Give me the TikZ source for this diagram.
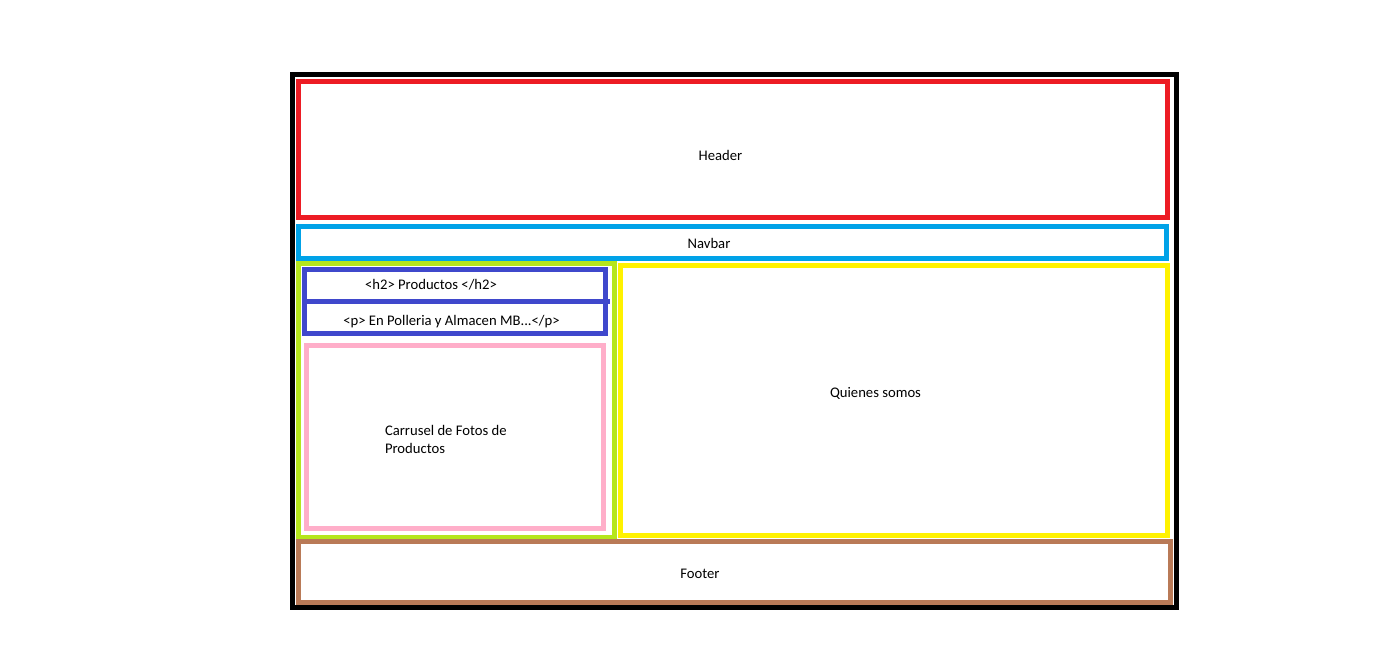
\documentclass[tikz,border=0pt]{standalone}
\usepackage{fontspec}
\setmainfont{Carlito}
\usetikzlibrary{positioning}

\definecolor{pred}{HTML}{ED1C24}
\definecolor{pcyan}{HTML}{00A2E8}
\definecolor{pgreen}{HTML}{B5E61D}
\definecolor{pyellow}{HTML}{FFF200}
\definecolor{ppink}{HTML}{FFAEC9}
\definecolor{pbrown}{HTML}{B97A57}
\definecolor{pblue}{HTML}{3F48CC}

\begin{document}
\begin{tikzpicture}[x=1pt,y=-1pt,line width=5pt,
  box/.style={draw=#1},
  lbl/.style={anchor=base,inner sep=0pt,font=\fontsize{14.67pt}{18pt}\selectfont}]
  \useasboundingbox (0,0) rectangle (1386,668);
  % page frame
  \draw[box=black]   (292.5,74.5) rectangle (1176,607.5);
  \draw[box=pred]    (298.5,81.5) rectangle (1167.5,218);
  \draw[box=pcyan]   (298.5,226.5) rectangle (1166,259);
  \draw[box=pgreen]  (298,264) rectangle (614,537.5);
  \draw[box=pyellow] (620.5,265.5) rectangle (1167.5,535);
  \draw[box=pbrown]  (298,541) rectangle (1170,602.5);
  % productos column
  \draw[box=pblue]   (304,270) rectangle (605,333.5);
  \coordinate (split w) at (304,301.5);
  \coordinate (split e) at (610,301.5);
  \draw[pblue] (split w) -- (split e);
  \draw[box=ppink]   (306.5,345) rectangle (603,528);
  % labels
  \node[lbl] (header)  at (720.5,161)  {Header};
  \node[lbl] (navbar)  at (709,248.5)  {Navbar};
  \node[lbl] (h2)      at (431,290)    {<h2> Productos </h2>};
  \node[lbl] (parr)    at (451.5,325)  {<p> En Polleria y Almacen MB...</p>};
  \node[lbl] (quienes) at (875.5,397)  {Quienes somos};
  \node[lbl,anchor=base west,align=left] (carrusel) at (382.5,453.5)
    {Carrusel de Fotos de\\Productos};
  \node[lbl] (footer)  at (700,578)    {Footer};
\end{tikzpicture}
\end{document}
